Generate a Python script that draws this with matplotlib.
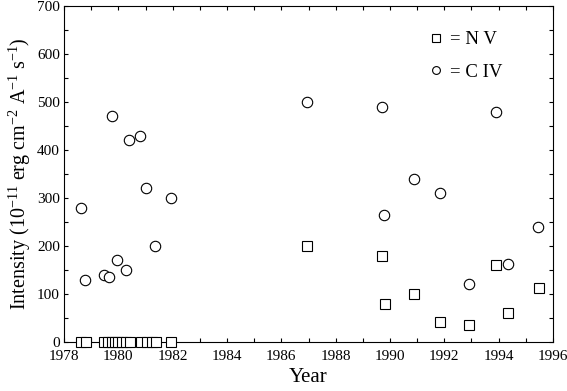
import matplotlib
matplotlib.use("Agg")
import matplotlib.pyplot as plt
from matplotlib.ticker import MultipleLocator

plt.rcParams['font.family'] = ['Liberation Serif', 'DejaVu Serif']
plt.rcParams['mathtext.default'] = 'regular'

# N V (squares)
nv_years = [1978.63, 1978.80, 1979.48, 1979.63, 1979.75, 1979.88, 1980.00, 1980.15,
            1980.30, 1980.42, 1980.85, 1981.05, 1981.25, 1981.40, 1981.95,
            1986.95, 1989.72, 1989.82, 1990.88, 1991.84, 1992.90, 1993.89, 1994.34, 1995.47]
nv_vals = [0, 0, 0, 0, 0, 0, 0, 0, 0, 0, 0, 0, 0, 0, 0,
           200, 180, 80, 100, 42, 35, 160, 60, 112]

# C IV (circles)
civ_years = [1978.63, 1978.78, 1979.48, 1979.67, 1979.78, 1979.95, 1980.29, 1980.39,
             1980.80, 1981.02, 1981.35, 1981.93,
             1986.95, 1989.72, 1989.79, 1990.88, 1991.84, 1992.90, 1993.89, 1994.34, 1995.46]
civ_vals = [280, 130, 140, 135, 470, 170, 150, 420, 430, 320, 200, 300,
            500, 490, 265, 340, 310, 120, 480, 163, 240]

fig = plt.figure(figsize=(5.67, 3.91), dpi=100)
ax = fig.add_axes([0.1129, 0.1253, 0.8624, 0.8594])

ax.plot(nv_years, nv_vals, ls='none', marker='s', ms=7.2, mfc='white', mec='black',
        mew=0.8, label='= N V', clip_on=False, zorder=3)
ax.plot(civ_years, civ_vals, ls='none', marker='o', ms=7.5, mfc='white', mec='black',
        mew=0.8, label='= C IV', clip_on=False, zorder=3)

ax.set_xlim(1978, 1996)
ax.set_ylim(0, 700)
ax.xaxis.set_major_locator(MultipleLocator(2))
ax.xaxis.set_minor_locator(MultipleLocator(1))
ax.yaxis.set_major_locator(MultipleLocator(100))
ax.yaxis.set_minor_locator(MultipleLocator(50))
ax.tick_params(which='both', direction='in', top=True, right=True, length=3,
               width=0.8, labelsize=11)
ax.tick_params(axis='x', pad=6)
ax.tick_params(axis='y', pad=3)
for s in ax.spines.values():
    s.set_linewidth(0.8)

ax.set_xlabel('Year', fontsize=15, labelpad=3)
ax.set_ylabel('Intensity (10$^{-11}$ erg cm$^{-2}$ A$^{-1}$ s$^{-1}$)', fontsize=14.5, labelpad=3)

ax.legend(loc='upper right', bbox_to_anchor=(0.93, 0.975), frameon=False, markerscale=0.75,
          handlelength=0.6, handletextpad=0.4, labelspacing=0.8, fontsize=13.5)

fig.savefig('out.png', dpi=100)
